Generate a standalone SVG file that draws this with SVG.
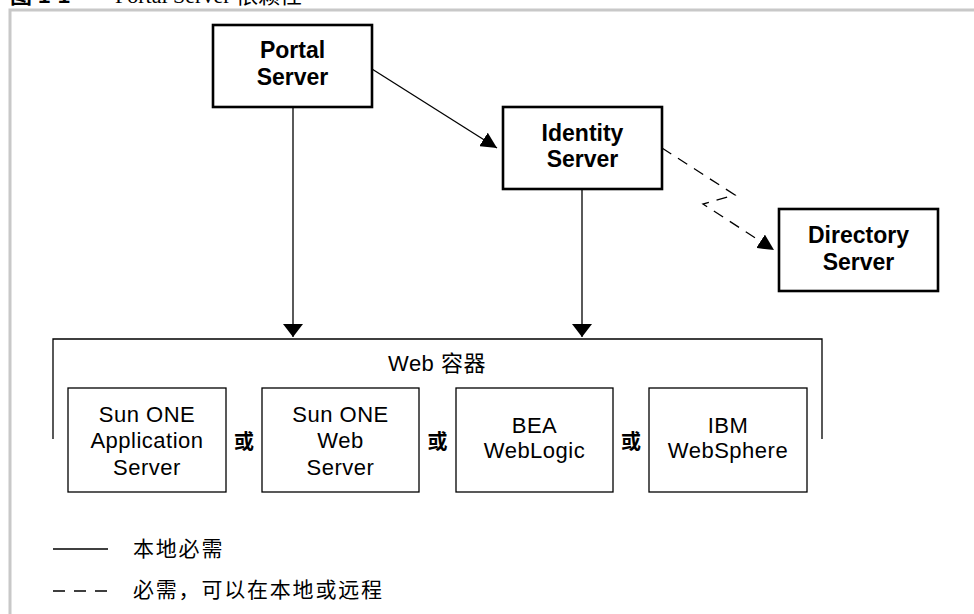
<svg xmlns="http://www.w3.org/2000/svg" width="974" height="614" viewBox="0 0 974 614">
<defs>
<style>
.frame{fill:none;stroke:#c8c8c8;stroke-width:3}
.main{fill:#fff;stroke:#000;stroke-width:2.6}
.sub{fill:#fff;stroke:#000;stroke-width:1.3}
.conn{fill:none;stroke:#000;stroke-width:1.3}
.dash{fill:none;stroke:#000;stroke-width:1.3;stroke-dasharray:11 8}
.bt{font-family:"Liberation Sans","Noto Sans CJK SC",sans-serif;font-weight:bold;font-size:23px;text-anchor:middle;fill:#000}
.rt{font-family:"Liberation Sans","Noto Sans CJK SC",sans-serif;font-size:22px;letter-spacing:0.5px;text-anchor:middle;fill:#000}
.or{font-family:"Liberation Sans","Noto Sans CJK SC",sans-serif;font-weight:bold;font-size:20px;text-anchor:middle;fill:#000}
.lg{font-family:"Liberation Sans","Noto Sans CJK SC",sans-serif;font-size:21px;letter-spacing:1.8px;fill:#000}
.title{font-family:"Liberation Serif","Noto Sans CJK SC",serif;font-size:22px;fill:#000}
</style>
<marker id="ah" viewBox="0 0 16 16" refX="16" refY="8" markerWidth="16" markerHeight="16" markerUnits="userSpaceOnUse" orient="auto">
<path d="M0,0 L16,8 L0,16 Z" fill="#000"/>
</marker>
<marker id="ahv" viewBox="0 0 13 20" refX="13" refY="10" markerWidth="13" markerHeight="20" markerUnits="userSpaceOnUse" orient="auto">
<path d="M0,0 L13,10 L0,20 Z" fill="#000"/>
</marker>
</defs>
<rect width="974" height="614" fill="#fff"/>
<text class="title" x="10" y="3"><tspan font-family="'Liberation Sans','Noto Sans CJK SC',sans-serif" font-weight="bold">图 1-1</tspan><tspan x="115">Portal Server 依赖性</tspan></text>
<path class="frame" d="M10,614 L10,10 L974,10"/>
<g id="connectors">
<line class="conn" x1="293" y1="107" x2="293" y2="337" marker-end="url(#ahv)"/>
<line class="conn" x1="582" y1="189" x2="582" y2="337" marker-end="url(#ahv)"/>
<line class="conn" x1="372" y1="69" x2="497" y2="148" marker-end="url(#ah)"/>
<path class="dash" d="M662,148 L735,195 L703,204 L774,250" marker-end="url(#ah)"/>
</g>
<g id="portal-server">
<rect class="main" x="213" y="25" width="159" height="82"/>
<text class="bt" x="292.5" y="58">Portal</text>
<text class="bt" x="292.5" y="85">Server</text>
</g>
<g id="identity-server">
<rect class="main" x="503" y="107" width="159" height="82"/>
<text class="bt" x="582.5" y="141">Identity</text>
<text class="bt" x="582.5" y="167">Server</text>
</g>
<g id="directory-server">
<rect class="main" x="779" y="209" width="159" height="82"/>
<text class="bt" x="858.5" y="243">Directory</text>
<text class="bt" x="858.5" y="270">Server</text>
</g>
<g id="web-container">
<path class="conn" d="M53,439 L53,339 L822,339 L822,439"/>
<text class="rt" x="437" y="371">Web 容器</text>
</g>
<g id="sun-one-app-server">
<rect class="sub" x="68" y="388" width="158" height="104"/>
<text class="rt" x="147" y="422">Sun ONE</text>
<text class="rt" x="147" y="448">Application</text>
<text class="rt" x="147" y="475">Server</text>
</g>
<g id="sun-one-web-server">
<rect class="sub" x="262" y="388" width="157" height="104"/>
<text class="rt" x="340.5" y="422">Sun ONE</text>
<text class="rt" x="340.5" y="448">Web</text>
<text class="rt" x="340.5" y="475">Server</text>
</g>
<g id="bea-weblogic">
<rect class="sub" x="456" y="388" width="157" height="104"/>
<text class="rt" x="534.5" y="433">BEA</text>
<text class="rt" x="534.5" y="458">WebLogic</text>
</g>
<g id="ibm-websphere">
<rect class="sub" x="649" y="388" width="158" height="104"/>
<text class="rt" x="728" y="433">IBM</text>
<text class="rt" x="728" y="458">WebSphere</text>
</g>
<g id="or-labels">
<text class="or" x="244" y="449">或</text>
<text class="or" x="437.5" y="449">或</text>
<text class="or" x="631" y="449">或</text>
</g>
<g id="legend">
<line class="conn" x1="53" y1="549" x2="108" y2="549"/>
<text class="lg" x="133" y="556">本地必需</text>
<line class="conn" x1="53" y1="591" x2="108" y2="591" stroke-dasharray="12 9"/>
<text class="lg" x="133" y="597">必需，可以在本地或远程</text>
</g>
</svg>
